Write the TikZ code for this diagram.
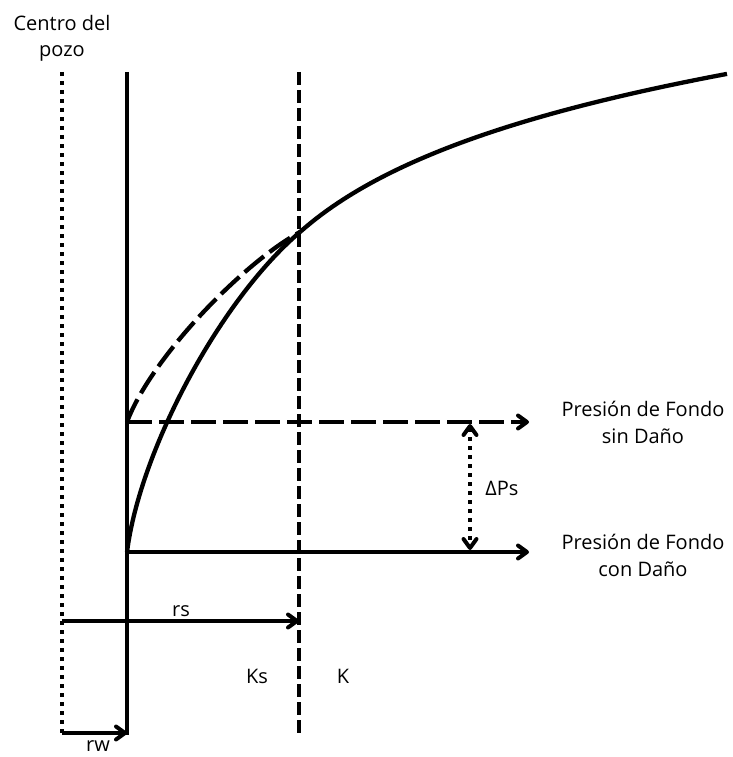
\documentclass[tikz,border=0pt]{standalone}
\usepackage{fontspec}
\setmainfont{Open Sans}
\usetikzlibrary{arrows.meta}
\begin{document}
\begin{tikzpicture}[x=1pt,y=-1pt,
  line/.style={line width=4.3pt},
  dotline/.style={line width=4pt,dash pattern=on 4pt off 5pt},
  dashline/.style={line width=4.3pt,dash pattern=on 25pt off 7pt},
  vdash/.style={line width=4.3pt,dash pattern=on 13pt off 5pt},
  tipbarb/.tip={Straight Barb[length=9pt,width=13pt,line width=4pt,round]},
  barb/.style={-tipbarb},
  lbl/.style={font=\fontsize{20}{26.5}\selectfont,inner sep=0pt,anchor=base,align=center}]
\useasboundingbox (0,0) rectangle (732,757);
% coordinates
\coordinate (dotTop) at (62,72);
\coordinate (dotBot) at (62,734);
\coordinate (wTop) at (127,72);
\coordinate (wBot) at (127,735);
\coordinate (sTop) at (299,72);
\coordinate (sBot) at (299,735);
\coordinate (rsStart) at (62,621);
\coordinate (rsEnd) at (299,621);
\coordinate (rwStart) at (62,733);
\coordinate (rwEnd) at (127,733);
\coordinate (pSin) at (127,422);
\coordinate (pSinEnd) at (529,422);
\coordinate (pCon) at (127,552);
\coordinate (pConEnd) at (529,552);
\coordinate (dpTop) at (470,424);
\coordinate (dpBot) at (470,550);
\coordinate (meet) at (300,232);
% verticals
\draw[dotline] (dotTop) -- (dotBot);
\draw[line] (wTop) -- (wBot);
\draw[vdash] (sTop) -- (sBot);
% curves
\draw[line] plot[domain=300:727,samples=80] (\x,{716-102*ln(\x-185)});
\draw[line] (pCon) .. controls (140,450) and (220,300) .. (meet);
\draw[dashline] (pSin) .. controls (150,360) and (240,265) .. (meet);
% horizontal arrows
\draw[dashline,barb] (pSin) -- (pSinEnd);
\draw[line,barb] (pCon) -- (pConEnd);
\draw[dotline,tipbarb-tipbarb] (dpTop) -- (dpBot);
\draw[line,barb] (rsStart) -- (rsEnd);
\draw[line,barb] (rwStart) -- (rwEnd);
% labels
\node[lbl] (centro) at (62,57) {Centro del\\pozo};
\node[lbl] (sin) at (643,443) {Presión de Fondo\\sin Daño};
\node[lbl] (con) at (643,576) {Presión de Fondo\\con Daño};
\node[lbl] (dps) at (502,495) {ΔPs};
\node[lbl] (rs) at (181,616) {rs};
\node[lbl] (rw) at (98,751) {rw};
\node[lbl] (ks) at (257,683) {Ks};
\node[lbl] (k) at (343,683) {K};
\end{tikzpicture}
\end{document}
